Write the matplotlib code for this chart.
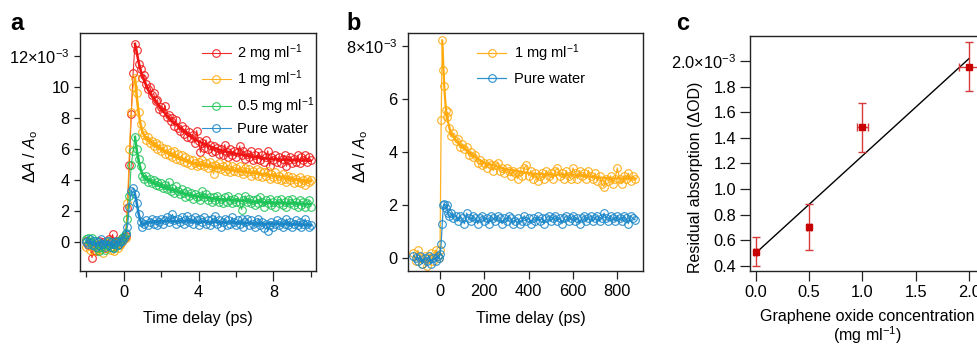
import numpy as np
import matplotlib
matplotlib.use("Agg")
import matplotlib.pyplot as plt

plt.rcParams['font.family'] = ['Liberation Sans', 'DejaVu Sans']
plt.rcParams['mathtext.fontset'] = 'custom'
plt.rcParams['mathtext.rm'] = 'Liberation Sans'
plt.rcParams['mathtext.it'] = 'Liberation Sans:italic'
plt.rcParams['mathtext.bf'] = 'Liberation Sans:bold'

# ---------------- Panel a data (values in units of 1e-3) ----------------
t_a = np.round(np.linspace(-2.0, 10.0, 121), 2)

red_a = [0.1, -0.2, 0.0, -1.0, -0.5, -0.6, -0.2, 0.1, -0.3, 0.0, -0.4, -0.1, 0.2, -0.3, 0.5, 0.0, -0.2, 0.1, -0.1, 0.3, 0.2, 0.4,
         2.2, 5.0, 8.3, 10.9, 12.8, 12.4, 11.5, 11.2, 10.6,
         10.8, 10.2, 9.9, 10.0, 9.5, 9.6, 9.1, 9.2, 8.6, 8.7,
         8.4, 8.8, 8.1, 8.2, 7.8, 8.0, 7.5, 7.9, 7.4, 7.2,
         7.5, 7.0, 7.3, 6.8, 7.1, 6.7, 6.9, 6.4, 7.2, 6.5,
         5.8, 6.4, 6.1, 6.6, 6.0, 6.3, 5.8, 6.2, 5.9, 6.1,
         5.7, 6.0, 5.6, 6.3, 5.8, 5.5, 6.0, 5.6, 5.9, 5.5,
         5.8, 6.2, 5.6, 5.9, 5.4, 5.7, 5.5, 5.9, 5.3, 5.6,
         5.4, 5.8, 5.3, 5.6, 5.2, 5.5, 5.9, 4.9, 5.5, 5.3,
         5.6, 5.2, 5.5, 5.1, 5.4, 5.6, 4.9, 5.3, 5.5, 5.1,
         5.4, 5.2, 5.6, 5.1, 5.5, 5.3, 5.6, 5.2, 5.5, 5.3]

orange_a = [-0.3, -0.1, -0.5, -0.2, -0.6, -0.4, -0.1, -0.5, -0.3, -0.7, -0.2, -0.4, 0.0, -0.5, -0.3, -0.6, -0.1, -0.4, -0.2, 0.0, 0.2, 0.3,
            2.5, 6.0, 8.4, 10.0, 10.6, 9.6, 8.4, 7.6, 7.1,
            6.9, 6.6, 6.8, 6.4, 6.5, 6.2, 6.4, 6.0, 6.3, 5.9,
            6.1, 5.7, 6.0, 5.6, 5.8, 5.5, 5.9, 5.4, 5.7, 5.3,
            5.6, 5.2, 5.5, 5.1, 5.4, 5.0, 5.3, 5.1, 4.9, 5.2,
            5.0, 5.3, 4.9, 5.1, 4.8, 5.2, 4.9, 4.4, 5.0, 4.8,
            5.1, 4.7, 4.9, 4.6, 5.0, 4.7, 4.5, 4.9, 4.6, 4.8,
            4.5, 4.9, 4.6, 4.4, 4.8, 4.5, 4.7, 4.3, 4.6, 4.4,
            4.7, 4.3, 4.6, 4.2, 4.5, 4.3, 4.6, 4.1, 4.4, 4.2,
            4.5, 4.1, 4.3, 4.0, 4.4, 4.1, 3.9, 4.3, 4.0, 4.2,
            3.8, 4.1, 3.9, 4.2, 3.8, 4.0, 3.7, 4.1, 3.9, 4.0]

green_a = [0.2, 0.3, 0.0, 0.3, -0.2, 0.1, -0.4, -0.6, -0.3, -0.1, -0.5, -0.2, 0.1, -0.3, -0.1, -0.4, 0.0, -0.2, 0.1, 0.3, 0.4, 0.6,
           1.5, 3.0, 5.0, 5.9, 6.8, 6.0, 5.4, 4.9, 4.3,
           4.1, 4.3, 3.9, 4.1, 3.8, 4.0, 3.7, 3.9, 3.6, 3.8,
           3.5, 3.7, 3.4, 3.9, 3.3, 3.5, 3.2, 3.6, 3.3, 3.1,
           3.4, 3.2, 2.9, 3.3, 3.0, 3.2, 2.8, 3.1, 2.9, 3.0,
           2.7, 3.3, 2.9, 3.1, 2.7, 2.9, 2.6, 2.9, 2.7, 3.0,
           2.6, 2.8, 2.5, 2.9, 2.6, 3.0, 2.7, 2.5, 2.8, 2.6,
           2.9, 2.5, 2.1, 2.7, 3.0, 2.6, 2.8, 2.5, 2.7, 2.4,
           2.8, 2.5, 2.9, 2.6, 2.3, 2.7, 2.5, 2.8, 2.4, 2.6,
           2.3, 2.7, 2.5, 2.8, 2.4, 2.6, 2.3, 2.7, 2.5, 2.8,
           2.4, 2.6, 2.3, 2.7, 2.4, 2.6, 2.3, 2.5, 2.7, 2.3]

blue_a = [0.0, -0.1, 0.2, -0.2, 0.1, -0.3, 0.0, -0.2, 0.2, -0.1, -0.3, 0.1, -0.2, 0.0, -0.4, -0.1, 0.1, -0.2, 0.0, 0.1, 0.3, 0.5,
          1.0, 2.3, 3.3, 3.5, 3.1, 2.5, 1.8, 1.3, 1.0,
          1.2, 1.4, 1.1, 1.3, 1.5, 1.2, 1.4, 1.1, 1.3, 1.5,
          1.2, 1.4, 1.6, 1.3, 1.5, 1.8, 1.4, 1.2, 1.5, 1.3,
          1.6, 1.2, 1.4, 1.7, 1.3, 1.5, 1.2, 1.6, 1.4, 1.1,
          1.5, 1.3, 1.6, 1.2, 1.4, 1.1, 1.5, 1.3, 1.7, 1.2,
          1.4, 1.0, 1.3, 1.5, 1.1, 1.4, 1.2, 1.6, 1.3, 1.1,
          1.4, 1.2, 1.5, 1.0, 1.3, 1.5, 1.1, 1.4, 1.2, 1.0,
          1.3, 1.5, 1.1, 1.3, 0.9, 1.2, 0.7, 1.1, 1.3, 1.0,
          1.2, 1.4, 1.1, 1.3, 1.0, 1.2, 1.5, 1.1, 1.3, 1.0,
          1.2, 1.4, 1.1, 1.3, 1.0, 1.2, 1.5, 1.2, 1.0, 1.1]

t_fit_a = [0.6, 0.7, 0.8, 0.9, 1.0, 1.2, 1.4, 1.7, 2.0, 2.5, 3.0, 3.5, 4.0, 5.0, 6.0, 7.0, 8.0, 9.0, 10.0]
red_fit_a = [12.8, 12.2, 11.6, 11.1, 10.7, 10.1, 9.6, 9.1, 8.6, 7.9, 7.4, 6.9, 6.5, 6.0, 5.7, 5.5, 5.35, 5.3, 5.25]
orange_fit_a = [10.6, 9.3, 8.3, 7.6, 7.1, 6.7, 6.5, 6.25, 6.0, 5.65, 5.35, 5.15, 5.0, 4.8, 4.6, 4.45, 4.3, 4.1, 3.95]
green_fit_a = [6.8, 5.9, 5.2, 4.7, 4.35, 4.1, 3.95, 3.75, 3.6, 3.4, 3.2, 3.05, 2.95, 2.8, 2.7, 2.6, 2.55, 2.5, 2.45]
blue_fit_a = [3.1, 2.5, 1.8, 1.35, 1.15, 1.25, 1.3, 1.35, 1.35, 1.35, 1.35, 1.35, 1.3, 1.3, 1.25, 1.2, 1.2, 1.15, 1.1]

labels_a = ['2 mg ml$^{-1}$', '1 mg ml$^{-1}$', '0.5 mg ml$^{-1}$', 'Pure water']

# ---------------- Panel b data ----------------
t_b = list(range(-120, 0, 10)) + [-5, 0, 5, 10, 15, 20, 25, 30, 35] + list(range(40, 890, 10))

orange_b = [0.2, -0.1, 0.3, 0.0, -0.2, 0.1, -0.3, 0.0, 0.2, -0.1, 0.3, 0.1,
            0.0, 0.3, 5.2, 8.2, 7.1, 6.5, 5.6, 5.3, 5.5,
            4.9, 4.6, 4.7, 4.4, 4.5, 4.2, 4.3, 4.1, 4.2, 3.9,
            4.0, 3.8, 3.9, 3.6, 3.7, 3.5, 3.6, 3.4, 3.6, 3.5,
            3.3, 3.5, 3.6, 3.3, 3.4, 3.2, 3.4, 3.3, 3.1, 3.3,
            3.2, 3.0, 3.3, 3.1, 3.4, 3.5, 3.1, 3.3, 3.0, 3.2,
            2.9, 3.1, 3.2, 3.0, 3.3, 3.1, 3.2, 3.0, 3.3, 3.4,
            3.1, 3.2, 3.0, 3.3, 3.1, 3.0, 3.4, 3.2, 3.0, 3.3,
            3.1, 3.2, 3.0, 3.3, 3.1, 3.0, 3.2, 2.9, 3.1, 2.8,
            2.7, 3.0, 2.9, 3.1, 2.8, 3.0, 3.4, 3.0, 2.8, 3.1,
            3.0, 3.2, 2.9, 3.1, 3.0]

blue_b = [0.1, 0.0, -0.1, 0.1, -0.2, 0.0, -0.1, 0.1, -0.2, 0.0, -0.1, 0.1,
          0.0, 0.15, 0.55, 1.3, 2.0, 2.05, 1.9, 2.0, 1.7,
          1.6, 1.7, 1.5, 1.6, 1.4, 1.6, 1.5, 1.3, 1.7, 1.5,
          1.4, 1.6, 1.5, 1.3, 1.5, 1.6, 1.4, 1.5, 1.3, 1.6,
          1.5, 1.4, 1.6, 1.5, 1.3, 1.5, 1.4, 1.6, 1.5, 1.3,
          1.4, 1.5, 1.3, 1.4, 1.6, 1.4, 1.5, 1.3, 1.5, 1.4,
          1.6, 1.4, 1.5, 1.3, 1.5, 1.6, 1.4, 1.5, 1.6, 1.4,
          1.5, 1.3, 1.5, 1.6, 1.4, 1.5, 1.6, 1.4, 1.5, 1.3,
          1.5, 1.6, 1.4, 1.5, 1.6, 1.4, 1.5, 1.6, 1.4, 1.5,
          1.7, 1.5, 1.4, 1.6, 1.5, 1.4, 1.6, 1.5, 1.4, 1.6,
          1.5, 1.3, 1.6, 1.5, 1.45]

t_fit_b = [10, 20, 30, 50, 75, 100, 150, 200, 300, 400, 500, 600, 700, 800, 880]
orange_fit_b = [8.2, 6.3, 5.3, 4.7, 4.4, 4.2, 3.85, 3.6, 3.35, 3.2, 3.15, 3.15, 3.05, 3.0, 3.0]
labels_b = ['1 mg ml$^{-1}$', 'Pure water']

# ---------------- Panel c data ----------------
conc_c = [0.0, 0.5, 1.0, 2.0]
resid_c = [0.512, 0.707, 1.482, 1.956]
yerr_c = [0.112, 0.18, 0.19, 0.193]
xerr_c = [0.015, 0.015, 0.05, 0.10]
fit_x_c = [0.0, 2.0]
fit_y_c = [0.50, 2.02]

# ---------------- Styling ----------------
RED = '#f01515'
ORANGE = '#ffa90a'
GREEN = '#1fc458'
BLUE = '#1a86c8'
FS = 11.5      # axis labels
TFS = 11.8     # tick labels
LFS = 10.5     # legend

fig = plt.figure(figsize=(9.77, 3.45), dpi=100)
W, H = 977.0, 345.0

def style_axes(ax):
    for s in ax.spines.values():
        s.set_linewidth(1.0)
        s.set_color('#222222')
    ax.tick_params(direction='out', width=0.9, labelsize=TFS, color='#222222', pad=3)

# ---------- Panel a ----------
axa = fig.add_axes([80 / W, 1 - 271 / H, 236 / W, 238 / H])
series_a = [(red_a, red_fit_a, RED), (orange_a, orange_fit_a, ORANGE),
            (green_a, green_fit_a, GREEN), (blue_a, blue_fit_a, BLUE)]
handles = []
for (vals, fitv, col), lab in zip(series_a, labels_a):
    h, = axa.plot(t_a, vals, '-', color=col, lw=0.8, marker='o', ms=5.5, mfc='none',
                  mew=0.8, alpha=0.9, label=lab)
    axa.plot(t_fit_a, fitv, '-', color=col, lw=1.8)
    handles.append(h)
axa.set_xlim(-2.34, 10.28)
axa.set_ylim(-1.86, 13.5)
axa.set_xticks([0, 4, 8])
axa.set_xticks([-2, 2, 6, 10], minor=True)
axa.set_yticks([0, 2, 4, 6, 8, 10, 12], labels=['0', '2', '4', '6', '8', '10', '12×10$^{-3}$'])
style_axes(axa)
axa.tick_params(axis='x', which='major', length=7)
axa.tick_params(axis='x', which='minor', length=4, width=0.9, color='#222222')
axa.tick_params(axis='y', length=4.5)
axa.set_xlabel('Time delay (ps)', fontsize=FS)
axa.set_ylabel(r'$\Delta\mathit{A}$ / $\mathit{A}_\mathrm{o}$', fontsize=FS)
axa.xaxis.set_label_coords(0.5, -0.17)
axa.yaxis.set_label_coords(-0.17, 0.48)
axa.legend(handles=handles, loc='upper left', bbox_to_anchor=(0.515, 0.962), frameon=False,
           fontsize=LFS, handlelength=2.0, handletextpad=0.4, labelspacing=0.35, borderpad=0,
           borderaxespad=0)

# ---------- Panel b ----------
axb = fig.add_axes([407.7 / W, 1 - 271 / H, 235.3 / W, 238 / H])
hb1, = axb.plot(t_b, orange_b, '-', color=ORANGE, lw=0.9, marker='o', ms=5.5, mfc='none',
                mew=0.8, alpha=0.9, label=labels_b[0])
axb.plot(t_fit_b, orange_fit_b, '-', color=ORANGE, lw=1.5)
hb2, = axb.plot(t_b, blue_b, '-', color=BLUE, lw=0.9, marker='o', ms=5.5, mfc='none',
                mew=0.8, alpha=0.9, label=labels_b[1])
axb.set_xlim(-146, 916)
axb.set_ylim(-0.48, 8.48)
axb.set_xticks([0, 200, 400, 600, 800])
axb.set_yticks([0, 2, 4, 6, 8], labels=['0', '2', '4', '6', '8×10$^{-3}$'])
style_axes(axb)
axb.tick_params(axis='x', length=6)
axb.tick_params(axis='y', length=4.5)
axb.set_xlabel('Time delay (ps)', fontsize=FS)
axb.set_ylabel(r'$\Delta\mathit{A}$ / $\mathit{A}_\mathrm{o}$', fontsize=FS)
axb.xaxis.set_label_coords(0.525, -0.17)
axb.yaxis.set_label_coords(-0.16, 0.48)
axb.legend(handles=[hb1, hb2], loc='upper left', bbox_to_anchor=(0.295, 0.962), frameon=False,
           fontsize=LFS, handlelength=2.0, handletextpad=0.5, labelspacing=0.6, borderpad=0,
           borderaxespad=0)

# ---------- Panel c ----------
axc = fig.add_axes([750 / W, 1 - 270.7 / H, 232 / W, 234.7 / H])
axc.plot(fit_x_c, fit_y_c, '-', color='black', lw=1.0, zorder=2)
axc.errorbar(conc_c, resid_c, yerr=yerr_c, xerr=xerr_c, fmt='s', color='#c80000',
             ecolor='#d63a3a', elinewidth=1.0, capsize=3, capthick=1.0, ms=5, zorder=3)
axc.set_xlim(-0.053, 2.12)
axc.set_ylim(0.363, 2.195)
axc.set_xticks([0.0, 0.5, 1.0, 1.5, 2.0], labels=['0.0', '0.5', '1.0', '1.5', '2.0'])
axc.set_yticks([0.4, 0.6, 0.8, 1.0, 1.2, 1.4, 1.6, 1.8, 2.0],
               labels=['0.4', '0.6', '0.8', '1.0', '1.2', '1.4', '1.6', '1.8', '2.0×10$^{-3}$'])
style_axes(axc)
axc.tick_params(length=7)
axc.set_xlabel('Graphene oxide concentration\n(mg ml$^{-1}$)', fontsize=FS, linespacing=1.0)
axc.set_ylabel('Residual absorption (ΔOD)', fontsize=FS)
axc.xaxis.set_label_coords(0.505, -0.165)
axc.yaxis.set_label_coords(-0.204, 0.40)

# ---------- Panel letters ----------
for x, lab in [(10, 'a'), (346, 'b'), (676, 'c')]:
    fig.text(x / W, 1 - 30 / H, lab, fontsize=17, fontweight='bold', va='baseline', ha='left')

fig.savefig('out.png', dpi=100)
